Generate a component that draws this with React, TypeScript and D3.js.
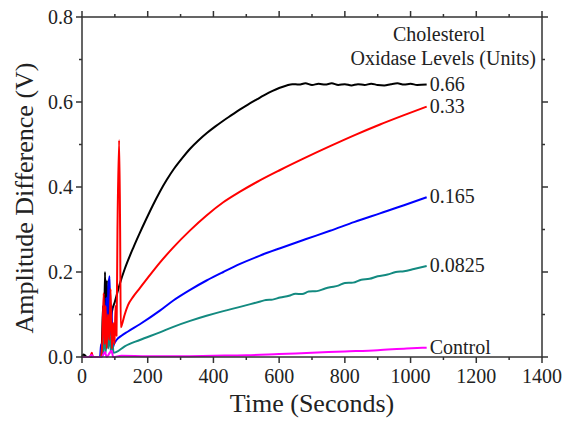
import React from "react";
import * as d3 from "d3";

const W = 566;
const H = 422;

const xTicks = [0, 200, 400, 600, 800, 1000, 1200, 1400];
const yTicks = [0.0, 0.2, 0.4, 0.6, 0.8];
const xMinor = [100, 300, 500, 700, 900, 1100, 1300];
const yMinor = [0.1, 0.3, 0.5, 0.7];

const seriesNames = ["0.66", "0.165", "0.0825", "0.33", "Control"];
const seriesColors = ["#000000", "#0000ff", "#138a80", "#ff0000", "#ff00ff"];

const black: [number, number][] = [
  [0, 0], [4, 0.006], [9, 0.004], [14, 0], [55, 0], [60, 0.02], [64, 0.12], [67, 0.05],
  [70, 0.2], [73, 0.08], [76, 0.18], [79, 0.04], [82, 0.12], [85, 0.06], [88, 0.09],
  [92, 0.11], [100, 0.13], [115, 0.172], [130, 0.207], [156, 0.257], [176, 0.292],
  [197, 0.327], [215, 0.356], [237, 0.389], [258, 0.417], [280, 0.443], [305, 0.468],
  [329, 0.49], [355, 0.51], [380, 0.527], [405, 0.542], [430, 0.556], [455, 0.569],
  [480, 0.582], [505, 0.594], [532, 0.606], [555, 0.616], [580, 0.626], [600, 0.633],
  [623, 0.639], [640, 0.642], [660, 0.641], [680, 0.644], [700, 0.64], [720, 0.643],
  [740, 0.641], [760, 0.644], [780, 0.64], [800, 0.642], [820, 0.639], [840, 0.642],
  [860, 0.64], [880, 0.643], [900, 0.64], [920, 0.639], [940, 0.642], [960, 0.644],
  [980, 0.641], [1000, 0.643], [1020, 0.64], [1049, 0.641],
];

const red: [number, number][] = [
  [0, 0], [25, 0], [30, 0.01], [33, 0], [58, 0], [62, 0.04], [66, 0.15], [69, 0.03],
  [72, 0.12], [75, 0.02], [79, 0.1], [83, 0.04], [87, 0.16], [91, 0.02], [95, 0.08],
  [99, 0.03], [102, 0.12], [105, 0.05], [108, 0.3], [113, 0.51], [116, 0.3],
  [118, 0.07], [121, 0.075], [130, 0.1], [140, 0.122], [156, 0.142], [176, 0.162],
  [200, 0.186], [237, 0.222], [278, 0.258], [329, 0.298], [379, 0.333], [430, 0.364],
  [481, 0.389], [540, 0.415], [603, 0.44], [680, 0.469], [755, 0.496], [830, 0.522],
  [907, 0.547], [980, 0.569], [1049, 0.589],
];

const blue: [number, number][] = [
  [0, 0], [55, 0], [58, 0.03], [62, 0.01], [66, 0.06], [70, 0.02], [74, 0.14],
  [77, 0.03], [80, 0.16], [84, 0.19], [87, 0.05], [90, 0.12], [93, 0.02], [97, 0.03],
  [105, 0.04], [120, 0.05], [140, 0.06], [176, 0.077], [237, 0.109], [278, 0.133],
  [329, 0.158], [379, 0.18], [430, 0.2], [481, 0.219], [540, 0.238], [603, 0.256],
  [680, 0.277], [755, 0.297], [830, 0.318], [907, 0.338], [980, 0.357], [1049, 0.376],
];

const teal: [number, number][] = [
  [0, 0], [58, 0], [62, 0.03], [65, 0.005], [69, 0.07], [72, 0.01], [76, 0.05],
  [80, 0.02], [84, 0.06], [88, 0.01], [92, 0.04], [96, 0.01], [105, 0.012],
  [130, 0.025], [176, 0.04], [237, 0.058], [278, 0.071], [329, 0.085], [379, 0.097],
  [430, 0.108], [481, 0.118], [540, 0.13], [560, 0.134], [580, 0.135], [603, 0.14],
  [630, 0.144], [650, 0.149], [670, 0.148], [690, 0.154], [715, 0.155], [740, 0.161],
  [755, 0.164], [780, 0.168], [800, 0.174], [825, 0.175], [850, 0.182], [875, 0.184],
  [900, 0.19], [930, 0.194], [955, 0.2], [980, 0.202], [1010, 0.207], [1049, 0.214],
];

const magenta: [number, number][] = [
  [0, 0], [20, 0], [30, 0.005], [35, 0], [60, 0], [70, 0.012], [75, 0], [90, 0.015],
  [95, 0], [120, 0.003], [200, 0.002], [300, 0.002], [400, 0.003], [500, 0.004],
  [600, 0.007], [700, 0.01], [800, 0.013], [900, 0.016], [988, 0.02], [1049, 0.022],
];

const seriesData = [black, blue, teal, red, magenta];

const FONT = "'Liberation Serif', 'Times New Roman', serif";

export default function App() {
  const left = 82;
  const right = 542;
  const top = 17;
  const bottom = 357;
  const x = d3.scaleLinear().domain([0, 1400]).range([left, right]);
  const y = d3.scaleLinear().domain([0, 0.8]).range([bottom, top]);
  const line = d3
    .line<[number, number]>()
    .x((d) => x(d[0]))
    .y((d) => y(d[1]))
    .curve(d3.curveMonotoneX);

  const axisColor = "#333";
  const textColor = "#222";

  return (
    <svg
      width={W}
      height={H}
      style={{ position: "absolute", left: 0, top: 0, background: "#fff" }}
      fontFamily={FONT}
    >
      {seriesData.map((s, i) => (
        <path
          key={i}
          d={line(s) || ""}
          fill="none"
          stroke={seriesColors[i]}
          strokeWidth={2}
          strokeLinejoin="round"
        />
      ))}

      <rect
        x={left}
        y={top}
        width={right - left}
        height={bottom - top}
        fill="none"
        stroke={axisColor}
        strokeWidth={1.5}
      />

      {xTicks.map((t) => (
        <g key={"xt" + t}>
          <line x1={x(t)} x2={x(t)} y1={bottom} y2={bottom + 6} stroke={axisColor} strokeWidth={1.5} />
          <line x1={x(t)} x2={x(t)} y1={top} y2={top - 6} stroke={axisColor} strokeWidth={1.5} />
          <text x={x(t)} y={383} textAnchor="middle" fontSize={20} fill={textColor}>
            {t}
          </text>
        </g>
      ))}
      {xMinor.map((t) => (
        <g key={"xm" + t}>
          <line x1={x(t)} x2={x(t)} y1={bottom} y2={bottom + 3} stroke={axisColor} strokeWidth={1.5} />
          <line x1={x(t)} x2={x(t)} y1={top} y2={top - 3} stroke={axisColor} strokeWidth={1.5} />
        </g>
      ))}

      {yTicks.map((t) => (
        <g key={"yt" + t}>
          <line x1={left} x2={left - 6} y1={y(t)} y2={y(t)} stroke={axisColor} strokeWidth={1.5} />
          <line x1={right} x2={right + 6} y1={y(t)} y2={y(t)} stroke={axisColor} strokeWidth={1.5} />
          <text x={73} y={y(t) + 7} textAnchor="end" fontSize={20} fill={textColor}>
            {t.toFixed(1)}
          </text>
        </g>
      ))}
      {yMinor.map((t) => (
        <g key={"ym" + t}>
          <line x1={left} x2={left - 3} y1={y(t)} y2={y(t)} stroke={axisColor} strokeWidth={1.5} />
          <line x1={right} x2={right + 3} y1={y(t)} y2={y(t)} stroke={axisColor} strokeWidth={1.5} />
        </g>
      ))}

      <text x={312} y={412} textAnchor="middle" fontSize={26} fill={textColor}>
        Time (Seconds)
      </text>
      <text
        transform={`translate(33, ${198}) rotate(-90)`}
        textAnchor="middle"
        fontSize={26}
        fill={textColor}
      >
        Amplitude Difference (V)
      </text>

      <text x={439} y={41} textAnchor="middle" fontSize={20} fill={textColor}>
        Cholesterol
      </text>
      <text x={536} y={65} textAnchor="end" fontSize={20} fill={textColor}>
        Oxidase Levels (Units)
      </text>

      {seriesData.map((s, i) => {
        const last = s[s.length - 1];
        return (
          <text
            key={"lab" + i}
            x={x(last[0]) + 3}
            y={y(last[1]) + 6}
            fontSize={20}
            fill={textColor}
          >
            {seriesNames[i]}
          </text>
        );
      })}
    </svg>
  );
}
